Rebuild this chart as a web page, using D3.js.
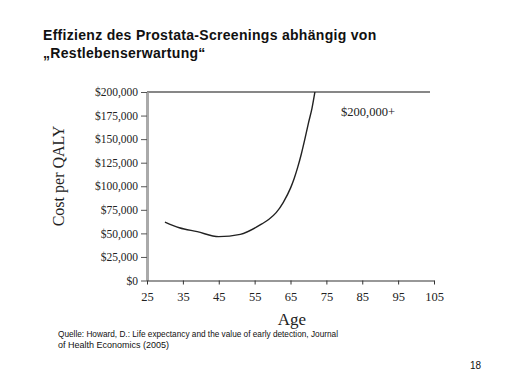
<!DOCTYPE html>
<html lang="de">
<head>
<meta charset="UTF-8">
<title>Effizienz des Prostata-Screenings</title>
<style>
    body { margin: 0; background: #fff; }
    .axis text { font-family: "Liberation Serif", "DejaVu Serif", serif; font-size: 11.5px; fill: #222; }
    .line { fill: none; stroke: #222; stroke-width: 1.4; }
</style>
</head>
<body>
<svg id="container" width="512" height="384"></svg>

<script src="https://cdn.jsdelivr.net/npm/d3@7"></script>
<script>
    let ages = [30, 34, 39, 45, 51, 57, 59, 61, 63, 65, 66, 67, 68, 69, 70, 71, 71.8]
    let costs = [62000, 56000, 51800, 46500, 49000, 60000, 65000, 72000, 83000, 98000, 108000, 120000, 134000, 150000, 167000, 183000, 200000]
    let xTicks = [25, 35, 45, 55, 65, 75, 85, 95, 105]
    let yTicks = [0, 25000, 50000, 75000, 100000, 125000, 150000, 175000, 200000]

    let svg = d3.select("#container")

    let plotLeft = 147, plotRight = 434, plotTop = 92, plotBottom = 280.5

    let xScale = d3.scaleLinear().domain([25, 105]).range([plotLeft, plotRight])
    let yScale = d3.scaleLinear().domain([0, 200000]).range([plotBottom, plotTop])

    // title
    let title = svg.append("text")
        .style("font-family", "'Liberation Sans', Arial, sans-serif")
        .style("font-weight", "bold")
        .style("font-size", "14px")
        .style("letter-spacing", "0.3px")
        .attr("fill", "#111")
    title.append("tspan").attr("x", 43).attr("y", 40).text("Effizienz des Prostata-Screenings abhängig von")
    title.append("tspan").attr("x", 43).attr("y", 58).text("\u201ERestlebenserwartung\u201C")

    // top border
    svg.append("line")
        .attr("x1", plotLeft).attr("x2", plotRight - 4)
        .attr("y1", plotTop).attr("y2", plotTop)
        .attr("stroke", "#111").attr("stroke-width", 1.2)

    // y axis
    let yAxis = d3.axisLeft(yScale)
        .tickValues(yTicks)
        .tickSizeInner(6)
        .tickSizeOuter(0)
        .tickPadding(3)
        .tickFormat(d => "$" + d3.format(",")(d))

    let yg = svg.append("g")
        .attr("class", "axis")
        .attr("transform", "translate(" + plotLeft + ",0)")
        .call(yAxis)
    yg.select(".domain").attr("stroke", "#aaa").attr("stroke-width", 3)
    yg.selectAll(".tick line").attr("stroke", "#555")

    // x axis
    let xAxis = d3.axisBottom(xScale)
        .tickValues(xTicks)
        .tickSizeInner(4)
        .tickSizeOuter(0)
        .tickPadding(8)

    let xg = svg.append("g")
        .attr("class", "axis")
        .attr("transform", "translate(0," + plotBottom + ")")
        .call(xAxis)
    xg.select(".domain").attr("stroke", "#333").attr("stroke-width", 1.2)
    xg.selectAll(".tick line").attr("stroke", "#333")
    xg.selectAll("text").style("font-size", "12.5px")

    // axis titles
    svg.append("text")
        .attr("transform", "translate(64,176) rotate(-90)")
        .attr("text-anchor", "middle")
        .style("font-family", "'Liberation Serif', serif")
        .style("font-size", "16px")
        .attr("fill", "#222")
        .text("Cost per QALY")

    svg.append("text")
        .attr("x", 292).attr("y", 325)
        .attr("text-anchor", "middle")
        .style("font-family", "'Liberation Serif', serif")
        .style("font-size", "17px")
        .attr("fill", "#222")
        .text("Age")

    // curve
    let data = ages.map((a, i) => ({ age: a, cost: costs[i] }))
    let valueLine = d3.line()
        .x(d => xScale(d.age))
        .y(d => yScale(d.cost))
        .curve(d3.curveMonotoneX)

    svg.append("path")
        .datum(data)
        .attr("class", "line")
        .attr("d", valueLine)

    svg.append("text")
        .attr("x", 341).attr("y", 116)
        .style("font-family", "'Liberation Serif', serif")
        .style("font-size", "12.5px")
        .attr("fill", "#222")
        .text("$200,000+")

    // source
    let src = svg.append("text")
        .style("font-family", "'Liberation Sans Narrow', 'Liberation Sans', Arial, sans-serif")
        .style("font-size", "9px")
        .attr("fill", "#111")
    src.append("tspan").attr("x", 58).attr("y", 337)
        .attr("textLength", 280).attr("lengthAdjust", "spacingAndGlyphs")
        .text("Quelle: Howard, D.: Life expectancy and the value of early detection, Journal")
    src.append("tspan").attr("x", 58).attr("y", 348)
        .text("of Health Economics (2005)")

    svg.append("text")
        .attr("x", 470).attr("y", 369)
        .style("font-family", "'Liberation Sans', Arial, sans-serif")
        .style("font-size", "10px")
        .attr("fill", "#111")
        .text("18")
</script>
</body>
</html>
